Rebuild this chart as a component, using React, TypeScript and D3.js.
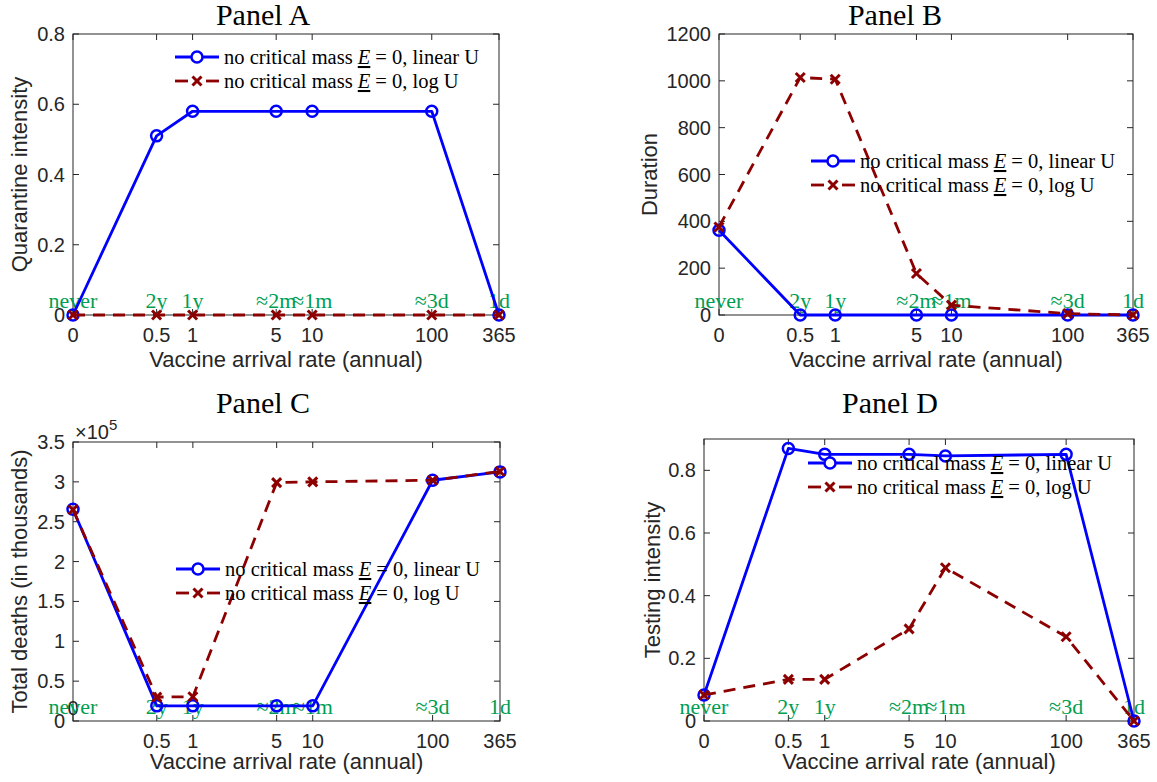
import React from "react";
import * as d3 from "d3";

// vaccine arrival rates (0 is drawn at 0.1 on the log axis)
const rates = [0, 0.5, 1, 5, 10, 100, 365];
const rateLabels = ["0", "0.5", "1", "5", "10", "100", "365"];
const arrivalLabels = ["never", "2y", "1y", "\u22482m", "\u22481m", "\u22483d", "1d"];

const quarantineLinear = [0, 0.51, 0.58, 0.58, 0.58, 0.58, 0];
const quarantineLog = [0, 0, 0, 0, 0, 0, 0];

const durationLinear = [362, 0, 0, 0, 0, 0, 0];
const durationLog = [376, 1014, 1007, 177, 42, 6, 0];

const deathsLinear = [265700, 19000, 19000, 19000, 19000, 302000, 312500];
const deathsLog = [265000, 30000, 30500, 299000, 300000, 302000, 313000];

const testingLinear = [0.083, 0.87, 0.851, 0.851, 0.846, 0.851, 0];
const testingLog = [0.083, 0.133, 0.133, 0.294, 0.489, 0.269, 0];

const quarantineTicks = [0, 0.2, 0.4, 0.6, 0.8];
const durationTicks = [0, 200, 400, 600, 800, 1000, 1200];
const deathsTicks = [0, 50000, 100000, 150000, 200000, 250000, 300000, 350000];
const testingTicks = [0, 0.2, 0.4, 0.6, 0.8];

const BLUE = "#0000ff";
const RED = "#8c0000";
const GREEN = "rgb(0,158,82)";
const AX = "#262626";
const SANS = "'Liberation Sans', Arial, sans-serif";
const SERIF = "'Liberation Serif', 'Times New Roman', serif";

const panels = [
  {
    title: "Panel A", titleX: 263, titleY: 25,
    left: 73, right: 499, top: 34, bottom: 315, ymax: 0.8,
    ticks: quarantineTicks, tickFmt: (v: number) => String(v),
    ylabel: "Quarantine intensity", ylabelX: 19, xlabelY: 367,
    linear: quarantineLinear, log: quarantineLog,
    legend: [175, 57], showZero: true,
  },
  {
    title: "Panel B", titleX: 895, titleY: 25,
    left: 719, right: 1133, top: 34, bottom: 315, ymax: 1200,
    ticks: durationTicks, tickFmt: (v: number) => String(v),
    ylabel: "Duration", ylabelX: 649, xlabelY: 367,
    linear: durationLinear, log: durationLog,
    legend: [811, 161], showZero: true,
  },
  {
    title: "Panel C", titleX: 263, titleY: 413,
    left: 73, right: 500, top: 442, bottom: 721, ymax: 350000,
    ticks: deathsTicks, tickFmt: (v: number) => String(v / 100000),
    ylabel: "Total deaths (in thousands)", ylabelX: 19, xlabelY: 769,
    linear: deathsLinear, log: deathsLog,
    legend: [176, 569], showZero: false, exponent: true,
  },
  {
    title: "Panel D", titleX: 890, titleY: 413,
    left: 704, right: 1134, top: 439, bottom: 721, ymax: 0.9,
    ticks: testingTicks, tickFmt: (v: number) => String(v),
    ylabel: "Testing intensity", ylabelX: 652, xlabelY: 769,
    linear: testingLinear, log: testingLog,
    legend: [808, 463], showZero: true,
  },
];

const px = (v: number) => (v === 0 ? 0.1 : v);

function Cross({ x, y }: { x: number; y: number }) {
  const s = 4.5;
  return (
    <g stroke={RED} strokeWidth={3}>
      <line x1={x - s} y1={y - s} x2={x + s} y2={y + s} />
      <line x1={x - s} y1={y + s} x2={x + s} y2={y - s} />
    </g>
  );
}

function LegendText({ x, y, kind }: { x: number; y: number; kind: string }) {
  return (
    <text x={x} y={y + 7} fontFamily={SERIF} fontSize={20.5} fill="#000">
      no critical mass{" "}
      <tspan fontStyle="italic" style={{ textDecoration: "underline" }}>E</tspan>
      <tspan dx={5}>{"= 0, " + kind}</tspan>
    </text>
  );
}

function Panel({ p }: { p: any }) {
  const x = d3.scaleLog().domain([0.1, 365]).range([p.left, p.right]);
  const y = d3.scaleLinear().domain([0, p.ymax]).range([p.bottom, p.top]);
  const line = d3
    .line<number>()
    .x((_, i) => x(px(rates[i])))
    .y((d) => y(d));
  const tl = 6;
  const [lx, ly] = p.legend;
  const cx = (p.left + p.right) / 2;
  const cy = (p.top + p.bottom) / 2;
  return (
    <g>
      <text x={p.titleX} y={p.titleY} textAnchor="middle" fontFamily={SERIF} fontSize={30}>
        {p.title}
      </text>
      {/* ticks */}
      <g stroke={AX} strokeWidth={1}>
        {rates.map((r, i) => (
          <g key={i}>
            <line x1={x(px(r))} x2={x(px(r))} y1={p.bottom} y2={p.bottom - tl} />
            <line x1={x(px(r))} x2={x(px(r))} y1={p.top} y2={p.top + tl} />
          </g>
        ))}
        {p.ticks.map((t: number, i: number) => (
          <g key={i}>
            <line x1={p.left} x2={p.left + tl} y1={y(t)} y2={y(t)} />
            <line x1={p.right} x2={p.right - tl} y1={y(t)} y2={y(t)} />
          </g>
        ))}
      </g>
      <rect x={p.left} y={p.top} width={p.right - p.left} height={p.bottom - p.top} fill="none" stroke={AX} strokeWidth={1} />
      {/* tick labels */}
      <g fontFamily={SANS} fontSize={20} fill={AX}>
        {p.ticks.map((t: number, i: number) => (
          <text key={i} x={p.left - 8} y={y(t)} dy="0.35em" textAnchor="end">
            {p.tickFmt(t)}
          </text>
        ))}
        {rates.map((r, i) =>
          i === 0 && !p.showZero ? null : (
            <text key={i} x={x(px(r))} y={p.bottom + 27} textAnchor="middle">
              {rateLabels[i]}
            </text>
          )
        )}
        {!p.showZero && (
          <text x={x(px(0))} y={p.bottom - 6} textAnchor="middle">0</text>
        )}
        {p.exponent && (
          <text x={p.left + 2} y={p.top - 3}>
            {"\u00d710"}
            <tspan fontSize={15} dy={-9}>5</tspan>
          </text>
        )}
      </g>
      {/* arrival labels */}
      <g fontFamily={SERIF} fontSize={22} fill={GREEN}>
        {rates.map((r, i) => (
          <text key={i} x={x(px(r))} y={p.bottom - 7} textAnchor="middle">
            {arrivalLabels[i]}
          </text>
        ))}
      </g>
      {/* axis labels */}
      <text x={cx} y={p.xlabelY} textAnchor="middle" fontFamily={SANS} fontSize={22} fill={AX}>
        Vaccine arrival rate (annual)
      </text>
      <text
        transform={`translate(${p.ylabelX},${cy}) rotate(-90)`}
        textAnchor="middle"
        dy="0.35em"
        fontFamily={SANS}
        fontSize={22}
        fill={AX}
      >
        {p.ylabel}
      </text>
      {/* series */}
      <path d={line(p.linear) || ""} fill="none" stroke={BLUE} strokeWidth={2.8} strokeLinejoin="round" />
      {p.linear.map((v: number, i: number) => (
        <circle key={i} cx={x(px(rates[i]))} cy={y(v)} r={5.5} fill="none" stroke={BLUE} strokeWidth={2.5} />
      ))}
      <path d={line(p.log) || ""} fill="none" stroke={RED} strokeWidth={2.8} strokeDasharray="12,8" />
      {p.log.map((v: number, i: number) => (
        <Cross key={i} x={x(px(rates[i]))} y={y(v)} />
      ))}
      {/* legend */}
      <line x1={lx} x2={lx + 44} y1={ly} y2={ly} stroke={BLUE} strokeWidth={2.8} />
      <circle cx={lx + 22} cy={ly} r={5.5} fill="#fff" stroke={BLUE} strokeWidth={2.5} />
      <LegendText x={lx + 49} y={ly} kind="linear U" />
      <line x1={lx} x2={lx + 13} y1={ly + 24} y2={ly + 24} stroke={RED} strokeWidth={2.8} />
      <line x1={lx + 31} x2={lx + 44} y1={ly + 24} y2={ly + 24} stroke={RED} strokeWidth={2.8} />
      <Cross x={lx + 22} y={ly + 24} />
      <LegendText x={lx + 49} y={ly + 24} kind="log U" />
    </g>
  );
}

export default function App() {
  return (
    <svg
      width={1157}
      height={782}
      style={{ position: "absolute", left: 0, top: 0, background: "#fff" }}
    >
      <rect width={1157} height={782} fill="#fff" />
      {panels.map((p, i) => (
        <Panel key={i} p={p} />
      ))}
    </svg>
  );
}
